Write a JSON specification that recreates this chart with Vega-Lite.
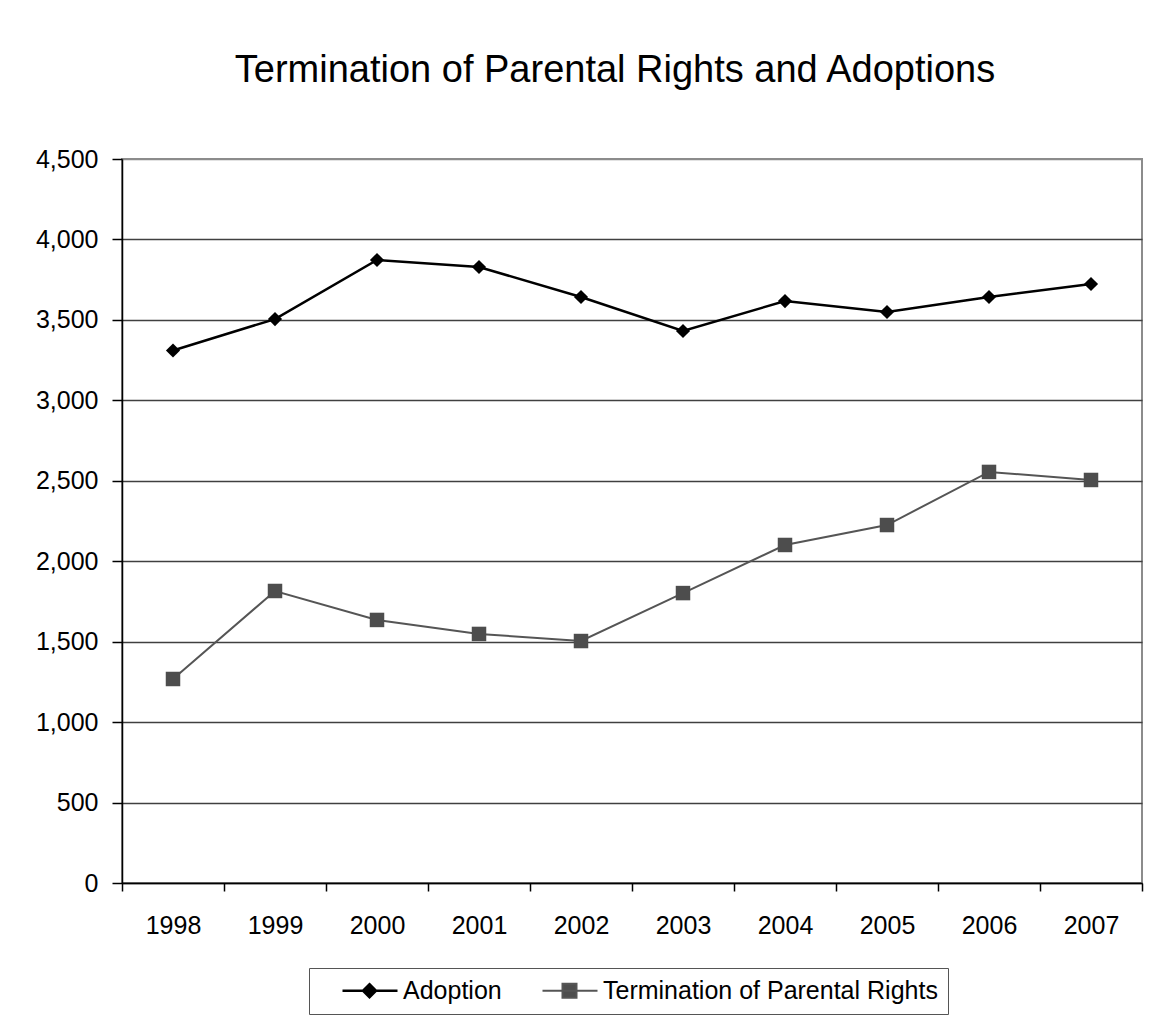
{
  "$schema": "https://vega.github.io/schema/vega-lite/v6.json",
  "width": 1020,
  "height": 724,
  "autosize": {"type": "none"},
  "padding": {"left": 122, "top": 159, "right": 17, "bottom": 139},
  "background": "white",
  "title": {
    "text": "Termination of Parental Rights and Adoptions",
    "fontSize": 38,
    "font": "Liberation Sans",
    "fontWeight": "normal",
    "color": "#000000",
    "anchor": "middle",
    "dx": -17,
    "offset": 57
  },
  "data": {
    "values": [
      {"year": "1998", "series": "Adoption", "value": 3310},
      {"year": "1999", "series": "Adoption", "value": 3505},
      {"year": "2000", "series": "Adoption", "value": 3872},
      {"year": "2001", "series": "Adoption", "value": 3829},
      {"year": "2002", "series": "Adoption", "value": 3642},
      {"year": "2003", "series": "Adoption", "value": 3431},
      {"year": "2004", "series": "Adoption", "value": 3617},
      {"year": "2005", "series": "Adoption", "value": 3549},
      {"year": "2006", "series": "Adoption", "value": 3642},
      {"year": "2007", "series": "Adoption", "value": 3723},
      {"year": "1998", "series": "Termination of Parental Rights", "value": 1268},
      {"year": "1999", "series": "Termination of Parental Rights", "value": 1815},
      {"year": "2000", "series": "Termination of Parental Rights", "value": 1635},
      {"year": "2001", "series": "Termination of Parental Rights", "value": 1548},
      {"year": "2002", "series": "Termination of Parental Rights", "value": 1504},
      {"year": "2003", "series": "Termination of Parental Rights", "value": 1802},
      {"year": "2004", "series": "Termination of Parental Rights", "value": 2101},
      {"year": "2005", "series": "Termination of Parental Rights", "value": 2225},
      {"year": "2006", "series": "Termination of Parental Rights", "value": 2555},
      {"year": "2007", "series": "Termination of Parental Rights", "value": 2505}
    ]
  },
  "encoding": {
    "x": {
      "field": "year",
      "type": "ordinal",
      "scale": {"type": "band", "paddingInner": 0, "paddingOuter": 0},
      "axis": {
        "title": null,
        "labelAngle": 0,
        "tickBand": "extent",
        "domainColor": "#000000",
        "domainWidth": 1.5,
        "tickColor": "#000000",
        "tickWidth": 1.5,
        "tickSize": 8,
        "labelFontSize": 25,
        "labelFont": "Liberation Sans",
        "labelColor": "#000000",
        "labelPadding": 22,
        "grid": false
      }
    },
    "y": {
      "field": "value",
      "type": "quantitative",
      "scale": {"domain": [0, 4500], "nice": false},
      "axis": {
        "title": null,
        "values": [0, 500, 1000, 1500, 2000, 2500, 3000, 3500, 4000, 4500],
        "format": ",.0f",
        "labelFontSize": 25,
        "labelFont": "Liberation Sans",
        "labelColor": "#000000",
        "labelPadding": 14,
        "tickSize": 10,
        "tickColor": "#000000",
        "tickWidth": 1.5,
        "domainColor": "#000000",
        "domainWidth": 1.5,
        "grid": true,
        "gridColor": {"condition": {"test": "datum.value === 4500", "value": "#8c8c8c"}, "value": "#404040"},
        "gridWidth": 1.5
      }
    }
  },
  "layer": [
    {
      "mark": {"type": "line"},
      "encoding": {
        "color": {
          "field": "series",
          "type": "nominal",
          "scale": {"domain": ["Adoption", "Termination of Parental Rights"], "range": ["#000000", "#555555"]},
          "legend": {
            "orient": "none",
            "legendX": 187,
            "legendY": 809,
            "direction": "horizontal",
            "title": null,
            "labelFontSize": 25,
            "labelFont": "Liberation Sans",
            "labelColor": "#000000",
            "labelLimit": 500,
            "strokeColor": "#555555",
            "fillColor": "#ffffff",
            "padding": 10,
            "symbolSize": 400,
            "labelOffset": 59,
            "columnPadding": 17,
            "symbolStrokeWidth": 2.5,
            "encode": {
              "symbols": {
                "update": {
                  "shape": {"signal": "datum.value === 'Adoption' ? 'M1.1,0L6.6,0M3.8,-0.65L4.45,0L3.8,0.65L3.15,0Z' : 'M1.1,0L6.6,0M3.1,-0.7L4.5,-0.7L4.5,0.7L3.1,0.7Z'"},
                  "fill": {"signal": "datum.value === 'Adoption' ? '#000000' : '#4d4d4d'"},
                  "stroke": {"signal": "datum.value === 'Adoption' ? '#000000' : '#555555'"},
                  "opacity": {"value": 1}
                }
              }
            }
          }
        },
        "strokeWidth": {
          "field": "series",
          "type": "nominal",
          "scale": {"domain": ["Adoption", "Termination of Parental Rights"], "range": [2.5, 2]},
          "legend": null
        }
      }
    },
    {
      "transform": [{"filter": "datum.series === 'Adoption'"}],
      "mark": {"type": "point", "filled": true, "opacity": 1, "shape": "diamond", "size": 200, "color": "#000000"}
    },
    {
      "transform": [{"filter": "datum.series === 'Termination of Parental Rights'"}],
      "mark": {"type": "point", "filled": true, "opacity": 1, "shape": "square", "size": 210, "color": "#4d4d4d"}
    }
  ],
  "config": {
    "view": {"stroke": "#8c8c8c", "strokeWidth": 2}
  }
}
